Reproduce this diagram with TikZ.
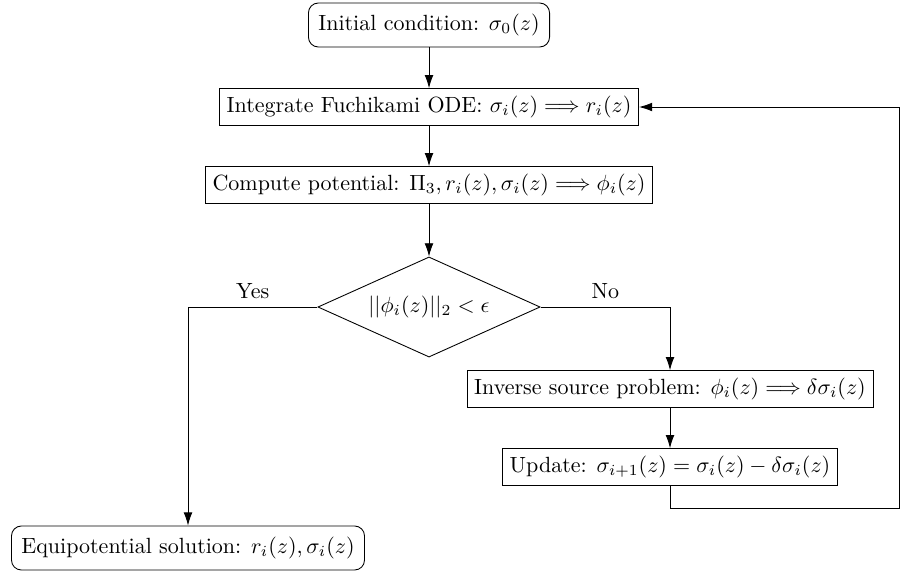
\documentclass[tikz,border=0pt]{standalone}
\usetikzlibrary{shapes.geometric,arrows.meta}
\begin{document}
\begin{tikzpicture}[x=0.4545pt,y=-0.4545pt,
  box/.style={draw,rectangle,minimum height=16.4pt,inner xsep=3.3pt},
  rbox/.style={draw,rectangle,rounded corners=4.5pt,minimum height=20pt,inner xsep=4.5pt},
  dec/.style={draw,diamond,aspect=2.2,minimum width=101pt,minimum height=45.5pt,inner sep=1pt},
  arr/.style={-{Latex[length=6pt,width=4pt]}},
  every node/.style={font=\normalsize}]
\useasboundingbox (0,0) rectangle (901,571);
\node[rbox] (init) at (429,25) {Initial condition: $\sigma_0(z)$};
\node[box] (int) at (429,107) {Integrate Fuchikami ODE: $\sigma_i(z)\Longrightarrow r_i(z)$};
\node[box] (comp) at (429,185) {Compute potential: $\Pi_3, r_i(z), \sigma_i(z)\Longrightarrow \phi_i(z)$};
\node[dec] (dia) at (429,307) {$||\phi_i(z)||_2<\epsilon$};
\node[box] (inv) at (670,389) {Inverse source problem: $\phi_i(z)\Longrightarrow \delta\sigma_i(z)$};
\node[box] (upd) at (670,467) {Update: $\sigma_{i+1}(z)=\sigma_i(z)-\delta\sigma_i(z)$};
\node[rbox] (eq) at (188,548) {Equipotential solution: $r_i(z),\sigma_i(z)$};
\coordinate (c1) at (899,508);
\draw[arr] (init) -- (int);
\draw[arr] (int) -- (comp);
\draw[arr] (comp) -- (dia);
\draw[arr] (dia.west) -| node[pos=0.25,above]{Yes} (eq.north);
\draw[arr] (dia.east) -| node[pos=0.25,above]{No} (inv.north);
\draw[arr] (inv) -- (upd);
\draw[arr] (upd.south) |- (c1) |- (int.east);
\end{tikzpicture}
\end{document}
